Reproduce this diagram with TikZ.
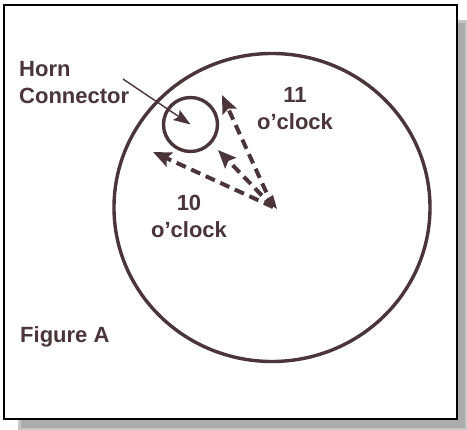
\documentclass[tikz,border=0pt]{standalone}
\usepackage{fontspec}
\setmainfont{Liberation Sans}
\usetikzlibrary{arrows.meta}
\definecolor{ink}{HTML}{4B353B}
\begin{document}
\begin{tikzpicture}[x=1pt,y=-1pt,
  lbl/.style={font=\bfseries\fontsize{22}{27}\selectfont, text=ink, inner sep=0pt},
  ring/.style={draw=ink, line width=3.4pt},
  dasharrow/.style={draw=ink, line width=4pt, dash pattern=on 10pt off 6pt,
     -{Stealth[length=18pt,width=15pt,inset=3pt,fill=ink]}},
  pointer/.style={draw=ink, line width=1.4pt, -{Stealth[length=17pt,width=12pt,inset=3pt]}}]
\useasboundingbox (0,0) rectangle (467,430);
% shadow
\fill[gray!45] (18,20) rectangle (467,430);
\fill[gray!65] (21,23) rectangle (465,428);
% frame
\draw[fill=white, line width=1.6pt, draw=black] (4,5) rectangle (457,419);
% circles
\draw[ring] (272,207.5) ellipse [x radius=158, y radius=154];
\node[ring, circle, minimum size=54pt, inner sep=0pt] (small) at (190.5,124.5) {};
\coordinate (ctr) at (273,207);
% dashed arrows
\coordinate (t11) at (222,95);
\coordinate (tmid) at (218,150);
\coordinate (t10) at (153,152);
\draw[dasharrow] (ctr) -- (t11);
\draw[dasharrow] (ctr) -- (tmid);
\draw[dasharrow] (ctr) -- (t10);
\fill[ink] (264,201) -- (273,195) -- (277,209) -- cycle;
% labels
\node[lbl, anchor=base west, align=left] (horn) at (19,104) {Horn\\Connector};
\coordinate (hornstart) at (123,79);
\draw[pointer] (hornstart) -- (small.center);
\node[lbl, anchor=base, align=center] (eleven) at (295,130) {11\\o’clock};
\node[lbl, anchor=base, align=center] (ten) at (189,238) {10\\o’clock};
\node[lbl, anchor=base west] (fig) at (20,343) {Figure A};
\end{tikzpicture}
\end{document}
